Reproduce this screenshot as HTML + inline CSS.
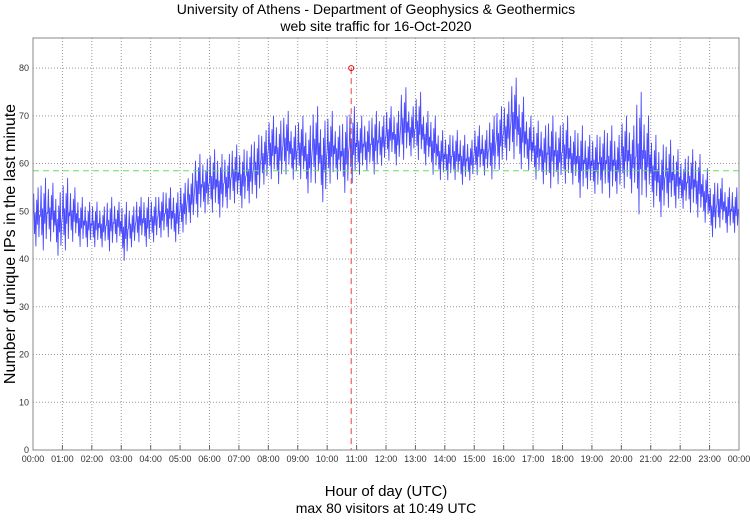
<!DOCTYPE html>
<html><head><meta charset="utf-8"><style>
body{margin:0;background:#fff;width:750px;height:515px;overflow:hidden;font-family:"Liberation Sans",sans-serif}
</style></head><body>
<svg id="chart" width="750" height="515" xmlns="http://www.w3.org/2000/svg" font-family="Liberation Sans, sans-serif">
<text x="376" y="14" text-anchor="middle" font-size="14">University of Athens - Department of Geophysics &amp; Geothermics</text>
<text x="376" y="31" text-anchor="middle" font-size="14">web site traffic for 16-Oct-2020</text>
<text x="386" y="496" text-anchor="middle" font-size="15">Hour of day (UTC)</text>
<text x="386" y="513" text-anchor="middle" font-size="14">max 80 visitors at 10:49 UTC</text>
<text transform="translate(15,244) rotate(-90)" text-anchor="middle" font-size="16">Number of unique IPs in the last minute</text>
<g id="grid"></g><g id="ticks"></g><g id="series"></g><g id="marks"></g>
<rect x="33" y="38" width="706" height="412" fill="none" stroke="#888" stroke-width="1"/>
</svg>
<script>
const yTicks=[0,10,20,30,40,50,60,70,80];
const xTickLabels=["00:00","01:00","02:00","03:00","04:00","05:00","06:00","07:00","08:00","09:00","10:00","11:00","12:00","13:00","14:00","15:00","16:00","17:00","18:00","19:00","20:00","21:00","22:00","23:00","00:00"];
const quarterHigh=[55,57,56,54,57,55,53,52,52,51,53,52,52,51,53,53,53,54,55,54,56,58,62,61,63,62,62,64,63,64,66,67,70,69,71,68,70,68,72,69,71,68,70,72,70,69,71,70,72,71,76,72,75,71,70,67,66,67,66,65,68,67,70,72,73,78,74,70,69,68,70,68,70,67,68,66,66,67,68,66,70,68,75,70,66,64,65,63,61,63,62,59,56,57,55,55];
const quarterLow=[42,41,43,40,41,43,42,42,42,42,41,43,39,42,43,42,43,44,44,43,45,47,48,49,49,48,50,51,50,51,52,55,56,55,57,56,56,53,55,51,55,56,53,55,57,58,57,59,60,59,60,61,60,59,57,56,56,56,55,56,57,57,56,58,60,60,58,58,56,55,54,55,55,55,52,54,53,53,52,53,54,53,48,52,50,48,50,50,50,49,48,47,44,46,45,45];
const meanValue=58.5;
const maxValue=80;
const maxMinute=649;
const L=33,R=739,T=38,B=450,YMAX=86.3;
const xs=m=>L+(R-L)*m/1440;
const ys=v=>B-(B-T)*v/YMAX;
const NS="http://www.w3.org/2000/svg";
function mk(tag,attrs,parent){const e=document.createElementNS(NS,tag);for(const k in attrs)e.setAttribute(k,attrs[k]);document.getElementById(parent).appendChild(e);return e;}
yTicks.forEach(v=>{
  if(v>0){const g=mk('line',{x1:L,x2:R,y1:ys(v),y2:ys(v),stroke:'#999','stroke-dasharray':'1,2'},'grid');
  
  }
  const t=mk('text',{x:L-4,y:ys(v)+3,'text-anchor':'end','font-size':9,fill:'#333'},'ticks');t.textContent=v;
  
  
});
xTickLabels.forEach((s,i)=>{
  const x=xs(i*60);
  if(i>0&&i<24){const g=mk('line',{x1:x,x2:x,y1:T,y2:B,stroke:'#999','stroke-dasharray':'1,2'},'grid');
  
  
  const tk=mk('line',{x1:x,x2:x,y1:B,y2:B-5,stroke:'#666'},'ticks');
  
  }
  const t=mk('text',{x:x,y:B+12,'text-anchor':'middle','font-size':9,fill:'#333'},'ticks');t.textContent=s;
  
  
});
const pat=[0.5,0.9,0.25,0.6,0.05,0.8,0.4,1.0,0.2,0.55];
let d='';
quarterHigh.forEach((h,q)=>{const lo=quarterLow[q];
  pat.forEach((f,j)=>{const m=q*15+j*1.5;d+=(d?'L':'M')+xs(m).toFixed(1)+','+ys(lo+f*(h-lo)).toFixed(1);});
});
const p=mk('path',{d:d,fill:'none',stroke:'#0000ff','stroke-width':0.9,'stroke-opacity':0.7},'series');


const ml=mk('line',{x1:L,x2:R,y1:ys(meanValue),y2:ys(meanValue),stroke:'#66dd66','stroke-dasharray':'6,4'},'marks');


const vl=mk('line',{x1:xs(maxMinute),x2:xs(maxMinute),y1:ys(maxValue),y2:B,stroke:'#dd4444','stroke-dasharray':'6,4'},'marks');


const c=mk('circle',{cx:xs(maxMinute),cy:ys(maxValue),r:2.5,fill:'none',stroke:'#ee0000'},'marks');


</script>
</body></html>
